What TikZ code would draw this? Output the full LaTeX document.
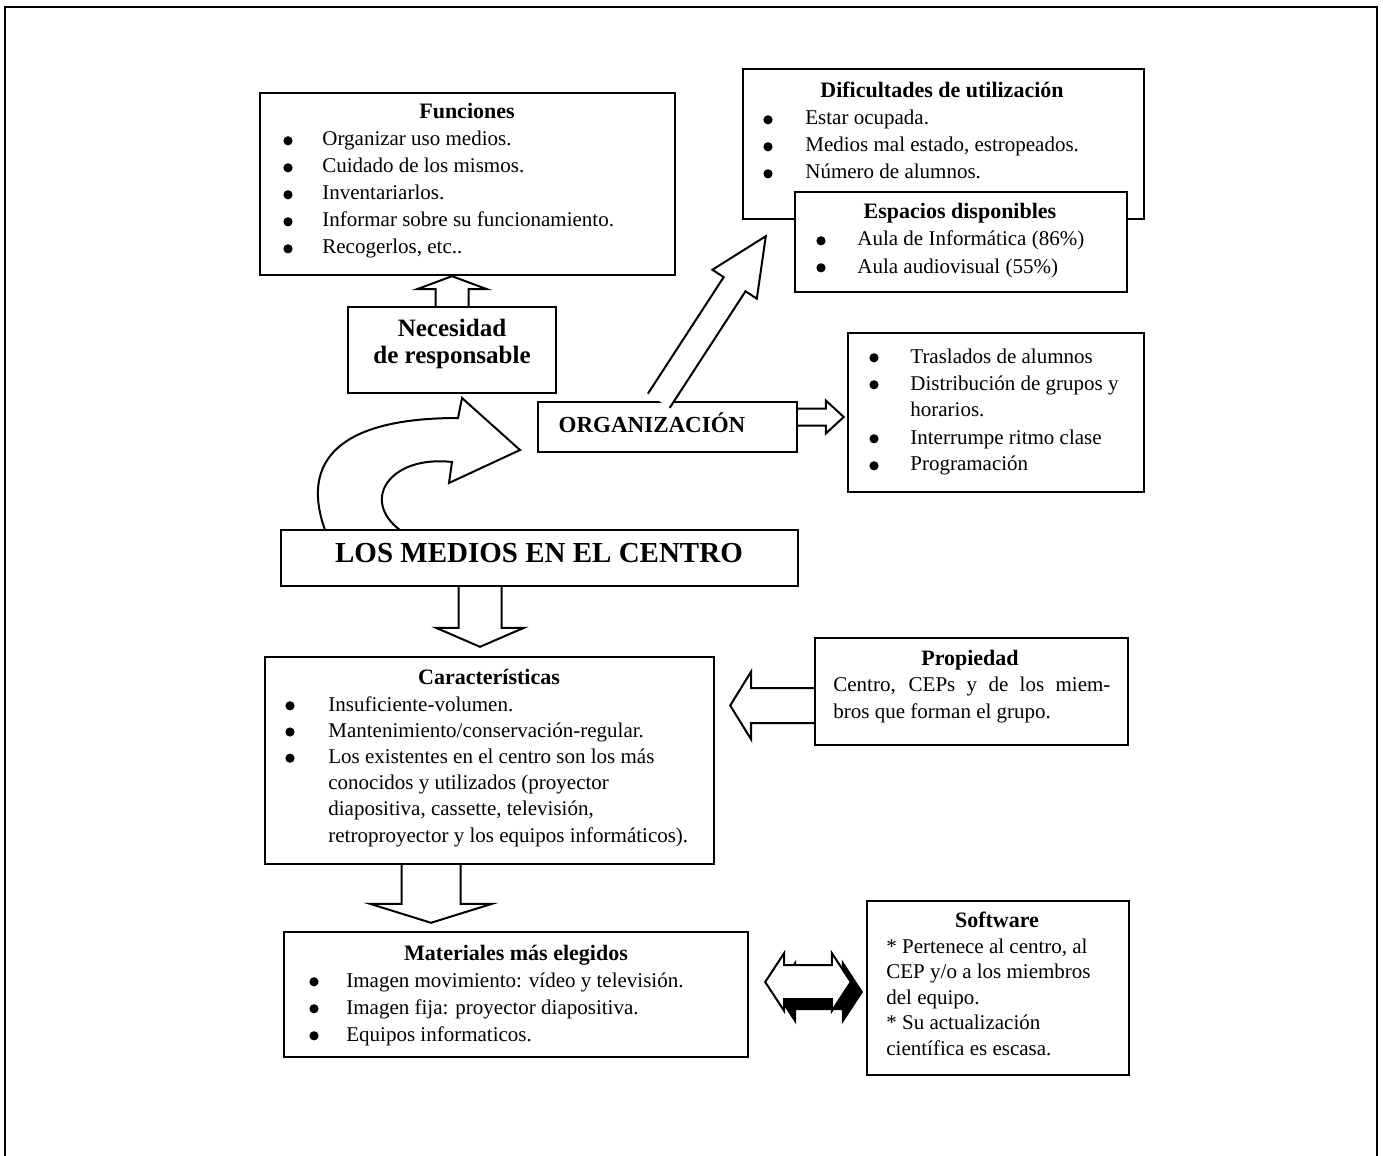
\documentclass[tikz,border=0pt]{standalone}
\usepackage{fontspec}
\setmainfont{Liberation Serif}
\usetikzlibrary{calc,fit,backgrounds}

\tikzset{
  panel/.style={draw=black, line width=1.2pt, fill=white},
  blockline/.style={draw=black, line width=1pt, fill=white, line join=miter},
  heading/.style={font=\fontsize{11}{13.5}\selectfont\bfseries, anchor=base},
  body/.style={font=\fontsize{10.5}{13.5}\selectfont, anchor=base west},
}

\newcommand{\bul}{\tikz[baseline=-2.6pt]\fill[black] (0,0) circle (2.3pt);}
% hollow block arrow: [style]{tail}{tip}{shaft half width}{head half width}{head length}
\newcommand{\blockarrow}[6][]{%
  \draw[blockline,#1] let \p1=($(#3)-(#2)$), \n1={atan2(\y1,\x1)}, \n2={veclen(\x1,\y1)} in
    ($(#2)+({\n1+90}:#4)$) -- ($(#2)+({\n1}:{\n2-#6})+({\n1+90}:#4)$)
    -- ($(#2)+({\n1}:{\n2-#6})+({\n1+90}:#5)$) -- (#3)
    -- ($(#2)+({\n1}:{\n2-#6})+({\n1-90}:#5)$) -- ($(#2)+({\n1}:{\n2-#6})+({\n1-90}:#4)$)
    -- ($(#2)+({\n1-90}:#4)$);}
% horizontal double arrow: [style]{left tip}{right tip}{shaft half}{head half}{head length}
\newcommand{\doublearrow}[6][]{%
  \draw[blockline,#1] (#2) -- ($(#2)+(#6,#5)$) -- ($(#2)+(#6,#4)$) -- ($(#3)+(-#6,#4)$)
    -- ($(#3)+(-#6,#5)$) -- (#3) -- ($(#3)+(-#6,-#5)$) -- ($(#3)+(-#6,-#4)$)
    -- ($(#2)+(#6,-#4)$) -- ($(#2)+(#6,-#5)$) -- cycle;}

\begin{document}
\begin{tikzpicture}[x=0.5pt,y=0.5pt]
    \tikzstyle{every node}+=[inner sep=0pt]
    \useasboundingbox (0,0) rectangle (1383,-1156);
    \draw [black, line width=1pt] (5,-1156) -- (5,-7) -- (1377,-7) -- (1377,-1156);

    % Funciones
    \node [panel, fit={(260,-93) (675,-275)}] (funciones) {};
    \node [heading] (funtit) at (467,-119) {Funciones};
    \node [body] (funlist) at (283,-146) {\begin{tabular}[t]{@{}p{19.5pt}@{}l@{}}
      \bul & Organizar uso medios.\\
      \bul & Cuidado de los mismos.\\
      \bul & Inventariarlos.\\
      \bul & Informar sobre su funcionamiento.\\
      \bul & Recogerlos, etc..
    \end{tabular}};

    % Necesidad de responsable
    \node [panel, fit={(348,-307) (556,-393)}] (necesidad) {};
    \node [font=\fontsize{12.5}{13.5}\selectfont\bfseries, anchor=base] (nectxt) at (452,-336)
      {\begin{tabular}[t]{@{}c@{}}Necesidad\\de responsable\end{tabular}};

    % Dificultades de utilizacion
    \node [panel, fit={(743,-69) (1144,-219)}] (dificultades) {};
    \node [heading] (diftit) at (942,-98) {Dificultades de utilización};
    \node [body] (diflist) at (763,-125) {\begin{tabular}[t]{@{}p{21pt}@{}l@{}}
      \bul & Estar ocupada.\\
      \bul & Medios mal estado, estropeados.\\
      \bul & Número de alumnos.
    \end{tabular}};

    % Espacios disponibles
    \node [panel, fit={(795,-192) (1127,-292)}] (espacios) {};
    \node [heading] (esptit) at (960,-219) {Espacios disponibles};
    \node [body] (esplist) at (816,-246) {\begin{tabular}[t]{@{}p{20.5pt}@{}l@{}}
      \bul & Aula de Informática (86\%)\\
      \bul & Aula audiovisual (55\%)
    \end{tabular}};

    % Organizacion
    \node [panel, fit={(538,-402) (797,-452)}] (organizacion) {};
    \node [font=\fontsize{11.5}{13.5}\selectfont\bfseries, anchor=base] (orgtxt) at (652,-432) {ORGANIZACIÓN};

    \node [panel, fit={(848,-333) (1144,-492)}] (traslados) {};
    \node [body] (tralist) at (869,-363) {\begin{tabular}[t]{@{}p{20.5pt}@{}l@{}}
      \bul & Traslados de alumnos\\
      \bul & Distribución de grupos y\\
           & horarios.\\
      \bul & Interrumpe ritmo clase\\
      \bul & Programación
    \end{tabular}};

    % Los medios en el centro
    \begin{scope}[on background layer]
    \draw [blockline] (325,-530) .. controls (300,-460) and (340,-418) .. (458,-418) -- (462,-398)
      -- (520,-450) -- (449,-483) -- (452,-462) .. controls (390,-455) and (360,-500) .. (400,-530) -- cycle;
    \end{scope}
    \node [panel, fit={(281,-530) (798,-586)}] (medios) {};
    \node [font=\fontsize{14.5}{16}\selectfont\bfseries, anchor=base] (medtxt) at (539,-562) {LOS MEDIOS EN EL CENTRO};

    % Caracteristicas
    \node [panel, fit={(265,-657) (714,-864)}] (caracteristicas) {};
    \node [heading] (cartit) at (489,-684) {Características};
    \node [body, font=\fontsize{10.5}{13.1}\selectfont] (carlist) at (285,-711) {\begin{tabular}[t]{@{}p{21.5pt}@{}l@{}}
      \bul & Insuficiente-volumen.\\
      \bul & Mantenimiento/conservación-regular.\\
      \bul & Los existentes en el centro son los más\\
           & conocidos y utilizados (proyector\\
           & diapositiva, cassette, televisión,\\
           & retroproyector y los equipos informáticos).
    \end{tabular}};

    % Propiedad
    \node [panel, fit={(815,-638) (1128,-745)}] (propiedad) {};
    \node [heading] (protit) at (970,-665) {Propiedad};
    \node [body] (protxt) at (833,-691) {\begin{tabular}[t]{@{}l@{}}
      \makebox[138.5pt][s]{Centro, CEPs y de los miem-}\\
      bros que forman el grupo.
    \end{tabular}};

    % Materiales mas elegidos
    \node [panel, fit={(284,-932) (748,-1057)}] (materiales) {};
    \node [heading] (mattit) at (516,-960) {Materiales más elegidos};
    \node [body] (matlist) at (309,-987) {\begin{tabular}[t]{@{}p{18.5pt}@{}l@{}}
      \bul & Imagen movimiento: vídeo y televisión.\\
      \bul & Imagen fija: proyector diapositiva.\\
      \bul & Equipos informaticos.
    \end{tabular}};

    % Software
    \node [panel, fit={(867,-901) (1129,-1075)}] (software) {};
    \node [heading] (softit) at (997,-927) {Software};
    \node [body, font=\fontsize{10.5}{12.8}\selectfont] (softxt) at (886,-953) {\begin{tabular}[t]{@{}l@{}}
      {*} Pertenece al centro, al\\
      CEP y/o a los miembros\\
      del equipo.\\
      {*} Su actualización\\
      científica es escasa.
    \end{tabular}};

    % arrows
    \coordinate (upS) at (necesidad.north);
    \coordinate (upT) at (necesidad.north |- funciones.south);
    \blockarrow{upS}{upT}{8.25pt}{17.5pt}{6.5pt}
    \coordinate (diagS) at ($(organizacion.north west)+(122,0)$);
    \coordinate (diagT) at ($(dificultades.south west)+(24,-16)$);
    \blockarrow{diagS}{diagT}{6.5pt}{13.25pt}{28.5pt}
    \coordinate (rightS) at ($(organizacion.east)+(0,10)$);
    \coordinate (rightT) at ($(traslados.west |- rightS)+(-3,0)$);
    \blockarrow{rightS}{rightT}{4.25pt}{8.25pt}{9pt}
    \coordinate (down1S) at ($(medios.south)+(-59.5,0)$);
    \coordinate (down1T) at ($(down1S |- caracteristicas.north)+(0,9)$);
    \blockarrow{down1S}{down1T}{10.75pt}{22pt}{9.5pt}
    \coordinate (down2S) at ($(caracteristicas.south)+(-58.5,0)$);
    \coordinate (down2T) at ($(down2S |- materiales.north)+(0,8)$);
    \blockarrow{down2S}{down2T}{14.75pt}{30.5pt}{9.5pt}
    \coordinate (leftS) at ($(propiedad.west)+(0,-14)$);
    \coordinate (leftT) at ($(caracteristicas.east |- leftS)+(15,0)$);
    \blockarrow{leftS}{leftT}{8.75pt}{17pt}{10.5pt}
    \coordinate (dblL) at ($(materiales.east)+(16,12.5)$);
    \coordinate (dblR) at ($(software.west)+(-15,6)$);
    \coordinate (dblLs) at ($(dblL)+(11,-10)$);
    \coordinate (dblRs) at ($(dblR)+(11,-10)$);
    \doublearrow[fill=black]{dblLs}{dblRs}{17}{29}{19}
    \doublearrow{dblL}{dblR}{17}{29}{19}
\end{tikzpicture}
\end{document}
